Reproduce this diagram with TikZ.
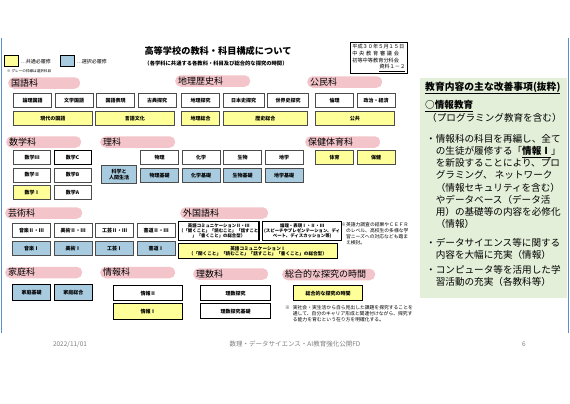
\documentclass[tikz,border=0pt]{standalone}
\usepackage{fontspec}
\setmainfont{Noto Sans CJK JP}
\usetikzlibrary{positioning}
\definecolor{KyoYellow}{HTML}{FFFF99}
\definecolor{KyoBlue}{HTML}{A8CBE0}
\definecolor{KyoPink}{HTML}{F3C5CA}
\definecolor{KyoGreen}{HTML}{E3EFD9}
\definecolor{KyoFrame}{HTML}{5B8FD0}
\definecolor{KyoGray}{HTML}{7F7F7F}
\newcommand{\kyofs}[2][1.2]{\fontsize{#2}{\fpeval{#1*#2}}\selectfont}

\begin{document}
\begin{tikzpicture}[x=1pt, y=-1pt, node distance=4pt and 2.5pt]
  \tikzstyle{subj}=[draw=black!70, line width=1pt, fill=white, minimum width=38pt, minimum height=14pt, inner sep=0.5pt, align=center, font=\kyofs{5}\bfseries]
  \tikzstyle{com}=[subj, fill=KyoYellow]
  \tikzstyle{sel}=[subj, fill=KyoBlue]
  \tikzstyle{newsubj}=[draw=black, line width=1.3pt]
  \tikzstyle{pill}=[fill=KyoPink, rounded corners=5.5pt, minimum height=11.5pt, inner xsep=3pt, inner ysep=0pt, anchor=west, align=left, font=\kyofs{9}]
  \tikzstyle{note}=[anchor=north west, align=left, inner sep=0pt, font=\kyofs{5}]
  \tikzstyle{body}=[anchor=north west, align=left, inner sep=0pt, font={\kyofs[1.27]{9.6}}]
  \tikzstyle{foot}=[text=KyoGray, font=\kyofs{6.5}]
  \fill[white] (0,0) rectangle (570,404);
  \useasboundingbox (0,0) rectangle (570,404);
  \draw[KyoFrame, line width=1.2pt] (1.5,38) -- (1.5,333);
  \draw[KyoFrame, line width=1.2pt] (568.5,38) -- (568.5,333);

  % legend and title
  \node[com, newsubj, minimum width=14pt, minimum height=11pt, anchor=north west] (legcom) at (4,55) {};
  \node[right=1pt of legcom, inner sep=0pt, font=\kyofs{5}] (legcomtxt) {…共通必履修};
  \node[sel, newsubj, minimum width=14pt, minimum height=11pt, anchor=north west] (legsel) at (60,55) {};
  \node[right=1pt of legsel, inner sep=0pt, font=\kyofs{5}] (legseltxt) {…選択必履修};
  \node[note, font=\kyofs{3.6}] (legnote) at (7,69) {※ グレーの枠線は選択科目};
  \node[font=\kyofs{9.2}\bfseries] (title) at (218,51) {高等学校の教科・科目構成について};
  \node[font=\kyofs{5.3}\bfseries] (subtitle) at (216,63) {（各学科に共通する各教科・科目及び総合的な探究の時間）};
  \node[draw, line width=0.6pt, anchor=north west, text width=53pt, align=left, font={\kyofs[1.3]{5.2}}, inner sep=2pt] (src) at (350,42) {平成３０年５月１５日\\中 央 教 育 審 議 会\\初等中等教育分科会\\\hfill\underline{資料１－２}};

  % kokugo
  \node[pill, text width=66pt] (kokugo) at (8,83) {国語科};
  \node[subj, anchor=north west] (ronri) at (13,93) {論理国語};
  \node[subj, right=of ronri] (bungaku) {文学国語};
  \node[subj, right=of bungaku] (hyogen) {国語表現};
  \node[subj, right=of hyogen] (koten) {古典探究};
  \node[com, anchor=north west, minimum width=78.5pt] (gendai) at (13,111) {現代の国語};
  \node[com, right=of gendai, minimum width=78.5pt] (gengo) {言語文化};

  % chireki
  \node[pill, text width=69pt] (chireki) at (175,81) {地理歴史科};
  \node[subj, anchor=north west, minimum width=38pt] (chiritan) at (181,93) {地理探究};
  \node[subj, right=of chiritan, minimum width=41pt] (nihonshi) {日本史探究};
  \node[subj, right=of nihonshi, minimum width=41pt] (sekaishi) {世界史探究};
  \node[com, anchor=north west, minimum width=38pt] (chirisogo) at (181,111) {地理総合};
  \node[com, right=of chirisogo, minimum width=84.5pt] (rekishi) {歴史総合};

  % komin
  \node[pill, text width=69pt] (komin) at (307,82) {公民科};
  \node[subj, anchor=north west] (rinri) at (315,93) {倫理};
  \node[subj, right=of rinri] (seiji) {政治・経済};
  \node[com, anchor=north west, minimum width=78.5pt] (kokyo) at (315,111) {公共};

  % sugaku
  \node[pill, text width=69pt] (sugaku) at (6,142) {数学科};
  \node[subj, anchor=north west, minimum width=37pt] (su3) at (13,150) {数学Ⅲ};
  \node[subj, newsubj, right=of su3, minimum width=37pt] (suC) {数学C};
  \node[subj, anchor=north west, minimum width=37pt] (su2) at (13,167.5) {数学Ⅱ};
  \node[subj, right=of su2, minimum width=37pt] (suB) {数学B};
  \node[com, anchor=north west, minimum width=37pt] (su1) at (13,185) {数学Ⅰ};
  \node[subj, right=of su1, minimum width=37pt] (suA) {数学A};

  % rika
  \node[pill, text width=69pt] (rika) at (100,142) {理科};
  \node[sel, anchor=north west, minimum width=35pt, minimum height=18pt] (kagaku) at (101,165) {科学と\\人間生活};
  \node[subj, anchor=north west] (butsuri) at (140,150) {物理};
  \node[subj, right=of butsuri] (kagak) {化学};
  \node[subj, right=of kagak] (seibutsu) {生物};
  \node[subj, right=of seibutsu] (chigaku) {地学};
  \node[sel, anchor=north west] (butsurik) at (140,168) {物理基礎};
  \node[sel, right=of butsurik] (kagakk) {化学基礎};
  \node[sel, right=of kagakk] (seibutsuk) {生物基礎};
  \node[sel, right=of seibutsuk] (chigakuk) {地学基礎};

  % hoken
  \node[pill, text width=69pt] (hoken) at (305,142) {保健体育科};
  \node[com, anchor=north west] (taiiku) at (315,150) {体育};
  \node[com, right=of taiiku] (hokenb) {保健};

  % geijutsu
  \node[pill, text width=71pt] (geijutsu) at (5,213) {芸術科};
  \node[subj, anchor=north west] (ongaku23) at (12,223) {音楽Ⅱ・Ⅲ};
  \node[subj, right=of ongaku23] (bijutsu23) {美術Ⅱ・Ⅲ};
  \node[subj, right=of bijutsu23] (kogei23) {工芸Ⅱ・Ⅲ};
  \node[subj, right=of kogei23] (shodo23) {書道Ⅱ・Ⅲ};
  \node[sel, anchor=north west] (ongaku1) at (12,241) {音楽Ⅰ};
  \node[sel, right=of ongaku1] (bijutsu1) {美術Ⅰ};
  \node[sel, right=of bijutsu1] (kogei1) {工芸Ⅰ};
  \node[sel, right=of kogei1] (shodo1) {書道Ⅰ};

  % gaikokugo
  \node[pill, text width=82pt] (gaikoku) at (180,213) {外国語科};
  \node[subj, newsubj, anchor=north west, minimum width=77pt, minimum height=19pt, font={\kyofs[1.15]{4.4}\bfseries}] (eicom23) at (178,221) {英語コミュニケーションⅡ・Ⅲ\\（「聞くこと」「読むこと」「話すこと\\」「書くこと」の総合型）};
  \node[subj, newsubj, right=of eicom23, minimum width=79pt, minimum height=19pt, font={\kyofs[1.15]{4.4}\bfseries}] (ronrihyo) {論理・表現Ⅰ・Ⅱ・Ⅲ\\(スピーチやプレゼンテーション、ディ\\ベート、ディスカッション等)};
  \node[com, newsubj, anchor=north west, minimum width=158.5pt, minimum height=15pt, font={\kyofs[1.15]{4.6}\bfseries}] (eicom1) at (178,243) {英語コミュニケーションⅠ\\（「聞くこと」「読むこと」「話すこと」「書くこと」の総合型）};
  \node[note, font={\kyofs[1.3]{4.8}}] (eigonote) at (341,222) {※英語力調査の結果やＣＥＦＲ\\\hspace*{1em}のレベル、高校生の多様な学\\\hspace*{1em}習ニーズへの対応なども踏ま\\\hspace*{1em}え検討。};

  % katei
  \node[pill, text width=71pt] (katei) at (5,272.5) {家庭科};
  \node[sel, newsubj, anchor=north west, minimum height=16pt] (kateikiso) at (12,284) {家庭基礎};
  \node[sel, newsubj, right=of kateikiso, minimum height=16pt] (kateisogo) {家庭総合};

  % joho
  \node[pill, text width=69pt] (joho) at (100,272.5) {情報科};
  \node[subj, newsubj, anchor=north west, minimum width=69pt, minimum height=15pt] (joho2) at (113,285) {情報Ⅱ};
  \node[com, newsubj, anchor=north west, minimum width=69pt, minimum height=16pt] (joho1) at (113,303) {情報Ⅰ};

  % risu
  \node[pill, text width=69pt] (risu) at (193,274) {理数科};
  \node[subj, newsubj, anchor=north west, minimum width=70pt, minimum height=15pt] (risutan) at (200,285) {理数探究};
  \node[subj, newsubj, anchor=north west, minimum width=70pt, minimum height=15pt] (risukiso) at (200,303) {理数探究基礎};

  % sogo
  \node[pill, text width=87pt] (sogo) at (282,274.5) {総合的な探究の時間};
  \node[com, newsubj, anchor=north west, minimum width=69pt, minimum height=15pt] (sogob) at (293,285) {総合的な探究の時間};
  \node[note, font={\kyofs[1.3]{4.8}}] (sogonote) at (285,305) {※\hspace{0.6em}実社会・実生活から自ら見出した課題を探究することを\\\hspace*{1.6em}通して、自分のキャリア形成と関連付けながら、探究す\\\hspace*{1.6em}る能力を育むという在り方を明確化する。};

  % right panel
  \node[fill=KyoGreen, anchor=north west, minimum width=147pt, minimum height=220pt, inner sep=0pt] (panel) at (420,78) {};
  \node[anchor=west, inner sep=0pt, font=\kyofs{9.8}\bfseries] (kaizen) at (425,88) {\underline{教育内容の主な改善事項(抜粋)}};
  \node[anchor=west, inner sep=0pt, font=\kyofs{9.6}\bfseries] (johokyo) at (425,106) {\underline{○情報教育}};
  \node[anchor=west, inner sep=0pt, font=\kyofs{9.6}] (program) at (427,118) {（プログラミング教育を含む）};
  \node[body] (point1) at (426,134) {・情報科の科目を再編し、全て\\\hspace*{1em}の生徒が履修する「\textbf{\underline{情報Ⅰ}}」\\\hspace*{1em}を新設することにより、プロ\\\hspace*{1em}グラミング、 ネットワーク\\\hspace*{1em}（情報セキュリティを含む）\\\hspace*{1em}やデータベース（データ活\\\hspace*{1em}用）の基礎等の内容を必修化\\\hspace*{1em}（情報）};
  \node[body] (point2) at (426,238) {・データサイエンス等に関する\\\hspace*{1em}内容を大幅に充実（情報）};
  \node[body] (point3) at (426,265) {・コンピュータ等を活用した学\\\hspace*{1em}習活動の充実（各教科等）};

  % footer
  \node[foot] (date) at (70,344) {2022/11/01};
  \node[foot] (fd) at (295,344) {数理・データサイエンス・AI教育強化公開FD};
  \node[foot] (page) at (524,344) {6};
\end{tikzpicture}
\end{document}
